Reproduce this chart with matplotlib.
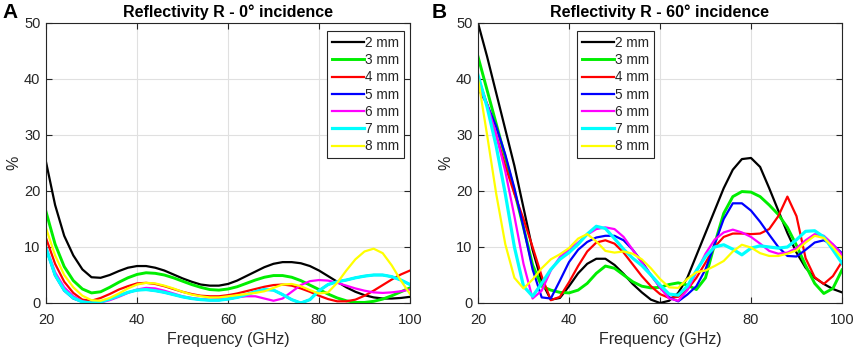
import numpy as np
import matplotlib
matplotlib.use("Agg")
import matplotlib.pyplot as plt

plt.rcParams['font.family'] = ['Liberation Sans', 'DejaVu Sans']

# frequency grid (GHz), shared by every curve
freq = np.arange(20, 101, 2)

labels = ["2 mm", "3 mm", "4 mm", "5 mm", "6 mm", "7 mm", "8 mm"]

# ---- panel A: 0 deg incidence (%)
r0_2mm = [25.2, 17.5, 12.0, 8.5, 6.0, 4.6, 4.5, 5.0, 5.7, 6.3, 6.6, 6.6, 6.3, 5.8, 5.1, 4.4, 3.8, 3.3, 3.1, 3.1, 3.4,
          4.0, 4.8, 5.6, 6.4, 7.0, 7.3, 7.3, 7.1, 6.6, 5.8, 4.8, 3.8, 2.8, 2.0, 1.4, 1.0, 0.8, 0.8, 0.9, 1.1]
r0_3mm = [16.3, 10.5, 6.5, 4.0, 2.5, 1.8, 2.0, 2.8, 3.7, 4.5, 5.1, 5.4, 5.3, 5.0, 4.5, 3.9, 3.3, 2.8, 2.4, 2.3, 2.5,
          2.9, 3.5, 4.1, 4.6, 4.9, 4.9, 4.6, 4.0, 3.2, 2.4, 1.6, 0.9, 0.4, 0.1, 0.1, 0.3, 0.7, 1.3, 2.0, 2.7]
r0_4mm = [11.6, 7.0, 3.8, 1.8, 0.6, 0.4, 0.9, 1.6, 2.4, 3.0, 3.5, 3.6, 3.4, 3.0, 2.5, 2.0, 1.6, 1.3, 1.2, 1.2, 1.4,
          1.7, 2.1, 2.5, 2.9, 3.2, 3.3, 3.1, 2.6, 2.0, 1.3, 0.7, 0.3, 0.3, 0.6, 1.3, 2.2, 3.2, 4.2, 5.1, 5.8]
r0_5mm = [9.7, 4.9, 2.2, 0.8, 0.2, 0.0, 0.2, 0.7, 1.3, 1.9, 2.3, 2.4, 2.2, 1.9, 1.5, 1.1, 0.8, 0.6, 0.5, 0.5, 0.7,
          1.0, 1.5, 2.0, 2.4, 2.3, 1.5, 0.6, 0.0, 0.6, 2.2, 3.3, 3.8, 4.1, 4.5, 4.8, 5.0, 5.0, 4.7, 4.1, 3.3]
r0_6mm = [10.0, 5.5, 2.8, 1.2, 0.3, 0.0, 0.1, 0.5, 1.1, 1.8, 2.4, 2.7, 2.6, 2.2, 1.7, 1.2, 0.9, 0.7, 0.6, 0.7, 0.8,
          1.0, 1.2, 1.2, 0.8, 0.4, 0.8, 2.0, 3.2, 3.9, 4.1, 4.0, 3.6, 3.1, 2.6, 2.2, 1.9, 1.8, 1.9, 2.1, 2.4]
r0_7mm = [9.8, 5.0, 2.3, 0.9, 0.2, 0.0, 0.2, 0.7, 1.3, 1.9, 2.3, 2.4, 2.2, 1.9, 1.5, 1.1, 0.8, 0.6, 0.5, 0.5, 0.7,
          1.0, 1.5, 2.0, 2.4, 2.3, 1.5, 0.6, 0.0, 0.6, 2.2, 3.3, 3.8, 4.1, 4.5, 4.8, 5.0, 5.0, 4.7, 4.1, 3.3]
r0_8mm = [13.4, 8.5, 5.0, 2.8, 1.3, 0.5, 0.4, 0.9, 1.7, 2.6, 3.3, 3.6, 3.5, 3.1, 2.6, 2.0, 1.5, 1.2, 1.0, 1.0, 1.2,
          1.4, 1.6, 1.8, 2.1, 2.7, 3.3, 3.4, 3.0, 2.3, 1.7, 1.9, 3.6, 5.8, 7.8, 9.2, 9.7, 8.9, 6.7, 4.0, 1.6]

# ---- panel B: 60 deg incidence (%)
r60_2mm = [50.0, 44.0, 37.5, 31.0, 24.5, 17.0, 9.5, 3.8, 0.6, 0.9, 3.0, 5.3, 7.0, 7.9, 7.9, 6.8, 5.2, 3.4, 1.9, 0.6, 0.0,
           0.4, 1.8, 4.5, 8.5, 12.5, 16.5, 20.5, 23.8, 25.7, 25.9, 24.3, 20.5, 16.5, 12.5, 9.0, 6.3, 4.5, 3.4, 2.5, 1.9]
r60_3mm = [44.0, 38.0, 32.0, 26.0, 20.0, 13.5, 6.8, 3.0, 2.3, 1.9, 1.8, 2.3, 3.5, 5.3, 6.6, 6.2, 5.0, 3.8, 3.0, 2.7, 2.8,
           3.3, 3.6, 3.2, 2.4, 4.5, 10.5, 16.0, 19.0, 19.9, 19.8, 19.0, 17.5, 15.8, 13.5, 10.3, 6.7, 3.5, 1.7, 2.6, 5.9]
r60_4mm = [40.4, 35.5, 30.0, 24.5, 19.5, 15.0, 10.0, 4.8, 0.5, 1.1, 3.7, 6.6, 9.2, 10.8, 11.2, 10.6, 9.0, 6.9, 4.8, 3.0, 1.6,
           0.9, 1.1, 2.4, 4.5, 7.2, 10.0, 11.8, 12.4, 12.4, 12.3, 12.4, 13.2, 15.5, 19.0, 15.5, 8.0, 4.6, 3.4, 4.8, 7.4]
r60_5mm = [38.3, 35.5, 31.5, 26.5, 20.5, 13.5, 6.0, 1.0, 0.8, 4.0, 7.3, 9.5, 10.9, 11.7, 12.0, 12.0, 11.2, 9.5, 7.4, 5.0, 2.8,
           1.0, 0.3, 1.5, 3.0, 6.0, 10.5, 15.0, 17.8, 17.8, 16.5, 14.5, 12.2, 10.0, 8.4, 8.3, 9.5, 10.8, 11.2, 10.4, 8.9]
r60_6mm = [39.2, 35.5, 30.0, 23.5, 15.5, 7.0, 0.8, 2.2, 5.8, 8.2, 9.5, 10.8, 12.2, 13.2, 13.5, 13.2, 11.8, 9.5, 7.2, 5.0, 2.8,
           0.8, 0.4, 2.3, 5.5, 8.8, 11.3, 12.6, 13.1, 12.6, 11.8, 10.6, 9.3, 8.8, 9.0, 9.8, 11.2, 12.3, 12.0, 10.5, 8.6]
r60_7mm = [40.7, 35.0, 28.0, 19.5, 10.0, 3.0, 1.2, 3.5, 6.0, 7.8, 9.0, 10.5, 12.3, 13.7, 13.3, 11.5, 9.6, 8.0, 6.7, 5.0, 3.2,
           1.6, 1.4, 3.0, 5.8, 8.3, 10.0, 10.4, 9.6, 8.6, 9.8, 10.2, 10.0, 9.8, 10.0, 11.3, 12.8, 12.9, 11.8, 9.5, 7.1]
r60_8mm = [40.1, 30.0, 19.5, 10.5, 4.5, 2.6, 4.2, 6.2, 7.8, 8.7, 9.8, 11.5, 12.3, 11.0, 9.3, 9.0, 9.2, 8.8, 7.8, 6.2, 4.3,
           2.8, 2.7, 4.3, 5.5, 5.8, 6.6, 7.5, 9.2, 10.4, 9.9, 8.9, 8.4, 8.4, 8.8, 9.4, 10.8, 12.0, 11.6, 10.0, 8.0]

colors = ["#000000", "#00ee00", "#ff0000", "#0000ff", "#ff00ff", "#00ffff", "#ffff00"]
widths = [1.6, 2.1, 1.6, 1.6, 1.6, 2.3, 1.6]

series_a = [r0_2mm, r0_3mm, r0_4mm, r0_5mm, r0_6mm, r0_7mm, r0_8mm]
series_b = [r60_2mm, r60_3mm, r60_4mm, r60_5mm, r60_6mm, r60_7mm, r60_8mm]

fig = plt.figure(figsize=(8.58, 3.57), dpi=100)
ax_a = fig.add_axes([46 / 858, 54 / 357, 364 / 858, 280 / 357])
ax_b = fig.add_axes([478 / 858, 54 / 357, 364 / 858, 280 / 357])

edge = "#262626"


def draw_panel(ax, series, title, legend_loc):
    for vals, c, lw, lab in zip(series, colors, widths, labels):
        ax.plot(freq, vals, color=c, lw=lw, label=lab, solid_joinstyle="round")
    ax.set_xlim(20, 100)
    ax.set_ylim(0, 50)
    ax.set_xticks([20, 40, 60, 80, 100])
    ax.set_yticks([0, 10, 20, 30, 40, 50])
    ax.grid(True, color="#e0e0e0", lw=0.8)
    ax.set_axisbelow(True)
    ax.tick_params(direction="in", top=True, right=True, length=4, width=0.8,
                   colors=edge, labelsize=10.5, labelcolor=edge)
    ax.tick_params(axis="x", pad=7)
    ax.tick_params(axis="y", pad=4)
    for s in ax.spines.values():
        s.set_color(edge)
        s.set_linewidth(0.8)
    ax.set_xlabel("Frequency (GHz)", fontsize=11.5, color=edge, labelpad=4)
    ax.set_ylabel("%", fontsize=11.5, color=edge, labelpad=2)
    ax.set_title(title, fontsize=11.5, fontweight="bold", pad=4)
    leg = ax.legend(loc="upper left", bbox_to_anchor=legend_loc, fontsize=9.8,
                    handlelength=2.35, handletextpad=0.1, labelspacing=0.24,
                    borderpad=0.35, borderaxespad=0, fancybox=False,
                    framealpha=1, edgecolor=edge)
    leg.get_frame().set_linewidth(0.8)
    for t in leg.get_texts():
        t.set_color(edge)


draw_panel(ax_a, series_a, "Reflectivity R - 0° incidence", (281 / 364, 1 - 8 / 280))
draw_panel(ax_b, series_b, "Reflectivity R - 60° incidence", (99 / 364, 1 - 8 / 280))

fig.text(2 / 858, 1 - 3 / 357, "A", fontsize=15, fontweight="bold", va="top", ha="left")
fig.text(432 / 858, 1 - 3 / 357, "B", fontsize=15, fontweight="bold", va="top", ha="left")

fig.savefig("out.png", dpi=100)
